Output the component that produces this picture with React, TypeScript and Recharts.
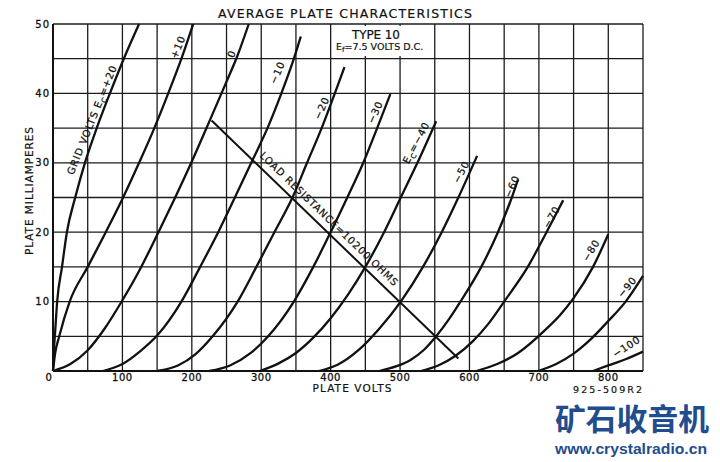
import React from "react"
import {
  LineChart,
  Line,
  XAxis,
  YAxis,
  CartesianGrid,
  ReferenceArea,
  ReferenceDot,
} from "recharts"

// [plate volts, plate mA], one list per grid bias
const EC_P20 = [[0, 0], [1, 2.5], [3, 5.5], [6, 10], [13, 15], [20, 20], [32, 25], [46, 30], [63, 35], [82, 40], [102, 45], [124, 50]]
const EC_P10 = [[0, 0], [3, 2.5], [9, 5], [24, 10], [50, 15], [76, 20], [101, 25], [124, 30], [146, 35], [166, 40], [185, 45], [202, 50]]
const EC_0 = [[0, 0], [25, 1], [50, 3], [75, 6.2], [100, 10.2], [125, 14.6], [150, 19.6], [175, 24.8], [200, 30.2], [225, 35.9], [250, 41.7], [266, 45.5], [282, 50]]
const EC_M10 = [[72, 0], [100, 1], [125, 2.8], [150, 5.1], [185, 10], [212, 15], [238, 20], [262, 25], [288, 30.5], [309, 35], [329, 40], [347, 45], [357, 48.2]]
const EC_M20 = [[150, 0], [180, 0.8], [205, 2.4], [230, 5], [266, 10], [293, 15], [319, 20], [345, 25], [366, 30], [387, 35], [406, 40], [420, 43.8]]
const EC_M30 = [[225, 0], [255, 0.8], [285, 2.6], [310, 5], [347, 10], [375, 15], [400, 20], [424, 25], [447, 30], [467, 35], [486, 39.9]]
const EC_M40 = [[298, 0], [325, 1.1], [350, 2.6], [375, 4.8], [400, 7.6], [425, 11], [450, 15], [477, 20], [501, 25], [525, 30], [552, 36]]
const EC_M50 = [[383, 0], [410, 0.9], [440, 3], [470, 6.1], [501, 10], [533, 15], [560, 20], [584, 25], [611, 31]]
const EC_M60 = [[470, 0], [495, 0.7], [515, 1.6], [535, 3.1], [552, 5], [570, 7.4], [587, 10], [617, 15], [641, 20], [661, 25], [670, 27.6]]
const EC_M70 = [[530, 0], [555, 0.8], [580, 2.2], [605, 4.3], [628, 6.9], [650, 10], [684, 15], [711, 20], [735, 24.6]]
const EC_M80 = [[610, 0], [640, 1], [670, 2.6], [710, 6], [730, 8], [750, 10.5], [778, 15], [800, 19.7]]
const EC_M90 = [[699, 0], [725, 1], [750, 2.5], [776, 4.7], [800, 7.2], [825, 10], [850, 13.7]]
const EC_M100 = [[778, 0], [800, 0.8], [825, 1.7], [850, 2.8]]

const CURVES = [
  { ec: "+20", pts: EC_P20 },
  { ec: "+10", pts: EC_P10 },
  { ec: "0", pts: EC_0 },
  { ec: "-10", pts: EC_M10 },
  { ec: "-20", pts: EC_M20 },
  { ec: "-30", pts: EC_M30 },
  { ec: "-40", pts: EC_M40 },
  { ec: "-50", pts: EC_M50 },
  { ec: "-60", pts: EC_M60 },
  { ec: "-70", pts: EC_M70 },
  { ec: "-80", pts: EC_M80 },
  { ec: "-90", pts: EC_M90 },
  { ec: "-100", pts: EC_M100 },
]

// 10200 ohm load line
const LOAD_LINE = [[228.5, 36.1], [584, 1.8]]

const VOLT_TICKS = [0, 50, 100, 150, 200, 250, 300, 350, 400, 450, 500, 550, 600, 650, 700, 750, 800, 850]
const VOLT_LABELS = [0, 100, 200, 300, 400, 500, 600, 700, 800]
const MA_TICKS = [0, 5, 10, 15, 20, 25, 30, 35, 40, 45, 50]
const MA_LABELS = [10, 20, 30, 40, 50]

// text written along the curves: [before subscript, subscript, after]
const CURVE_LABELS = [
  { parts: ["GRID VOLTS E", "C", "=+20"], v: 56, i: 36.2, angle: -68 },
  { parts: ["+10"], v: 180, i: 46.7, angle: -68 },
  { parts: ["0"], v: 257, i: 45.7, angle: -68 },
  { parts: ["−10"], v: 323, i: 43, angle: -66 },
  { parts: ["−20"], v: 387, i: 37.9, angle: -66 },
  { parts: ["−30"], v: 464, i: 37.3, angle: -66 },
  { parts: ["E", "C", "=−40"], v: 523, i: 32.9, angle: -62 },
  { parts: ["−50"], v: 588, i: 28.7, angle: -62 },
  { parts: ["−60"], v: 661, i: 26.6, angle: -66 },
  { parts: ["−70"], v: 718, i: 22.2, angle: -60 },
  { parts: ["−80"], v: 775, i: 17.4, angle: -58 },
  { parts: ["−90"], v: 827, i: 12.1, angle: -50 },
  { parts: ["−100"], v: 826, i: 3.5, angle: -33 },
  { parts: ["LOAD RESISTANCE=10200 OHMS"], v: 398, i: 21.9, angle: 44 },
]

const INK = "#111"
const FONT = "'DejaVu Sans', sans-serif"

const toRows = (pts: number[][]) => pts.map(([v, i]) => ({ v, i }))

function VoltTick({ x, y, payload }: any) {
  if (!VOLT_LABELS.includes(payload.value)) return <g />
  return (
    <text
      x={payload.value === 0 ? x - 4 : x}
      y={y}
      dy="0.71em"
      textAnchor="middle"
      fontFamily={FONT}
      fontSize={10}
      fill={INK}
      stroke={INK}
      strokeWidth={0.3}
      letterSpacing={0.5}
    >
      {payload.value}
    </text>
  )
}

function MaTick({ x, y, payload }: any) {
  if (!MA_LABELS.includes(payload.value)) return <g />
  return (
    <text
      x={x}
      y={y}
      dy="0.36em"
      textAnchor="end"
      fontFamily={FONT}
      fontSize={10}
      fill={INK}
      stroke={INK}
      strokeWidth={0.3}
      letterSpacing={1}
    >
      {payload.value}
    </text>
  )
}

function CurveLabel({ cx, cy, parts, angle }: any) {
  const isLoad = parts[0].startsWith("LOAD")
  return (
    <text
      x={cx}
      y={cy}
      dy="0.36em"
      textAnchor="middle"
      transform={`rotate(${angle}, ${cx}, ${cy})`}
      fontFamily={FONT}
      fontSize={10}
      fill={INK}
      stroke={INK}
      strokeWidth={0.25}
      letterSpacing={0.8}
      textLength={isLoad ? 188 : undefined}
      lengthAdjust={isLoad ? "spacing" : undefined}
    >
      {parts[0]}
      {parts.length > 1 && (
        <>
          <tspan dy={3} fontSize={7}>{parts[1]}</tspan>
          <tspan dy={-3}>{parts[2]}</tspan>
        </>
      )}
    </text>
  )
}

export default function App() {
  return (
    <div
      style={{
        position: "absolute",
        left: 0,
        top: 0,
        width: 720,
        height: 462,
        background: "white",
        fontFamily: FONT,
      }}
    >
      <LineChart width={720} height={462} margin={{ top: 24, right: 77, bottom: 0, left: 0 }}>
        <CartesianGrid stroke="#1c1c1c" strokeWidth={1.3} />
        <XAxis
          type="number"
          dataKey="v"
          domain={[0, 850]}
          ticks={VOLT_TICKS}
          interval={0}
          height={91}
          tickSize={0}
          tickMargin={3}
          tick={<VoltTick />}
          axisLine={{ stroke: INK, strokeWidth: 2 }}
        />
        <YAxis
          type="number"
          domain={[0, 50]}
          ticks={MA_TICKS}
          interval={0}
          width={53}
          tickSize={0}
          tickMargin={3}
          tick={<MaTick />}
          axisLine={{ stroke: INK, strokeWidth: 2 }}
        />
        {/* blank patch behind the type note */}
        <ReferenceArea x1={402} x2={548} y1={45.4} y2={49.7} fill="white" fillOpacity={1} stroke="none" />
        {CURVES.map((c) => (
          <Line
            key={c.ec}
            data={toRows(c.pts)}
            dataKey="i"
            type="monotone"
            stroke={INK}
            strokeWidth={2.3}
            dot={false}
            activeDot={false}
            isAnimationActive={false}
          />
        ))}
        <Line
          data={toRows(LOAD_LINE)}
          dataKey="i"
          type="linear"
          stroke={INK}
          strokeWidth={2}
          dot={false}
          activeDot={false}
          isAnimationActive={false}
        />
        {CURVE_LABELS.map((l) => (
          <ReferenceDot
            key={l.parts.join("")}
            x={l.v}
            y={l.i}
            r={0}
            ifOverflow="visible"
            shape={(p: any) => <CurveLabel cx={p.cx} cy={p.cy} parts={l.parts} angle={l.angle} />}
          />
        ))}
      </LineChart>

      <svg
        width={720}
        height={462}
        style={{ position: "absolute", left: 0, top: 0, pointerEvents: "none" }}
      >
        <g fontFamily={FONT} fill={INK} stroke={INK} strokeWidth={0.2}>
          <text x={345} y={13} dy="0.36em" textAnchor="middle" fontSize={12.5} textLength={254} lengthAdjust="spacing">
            AVERAGE PLATE CHARACTERISTICS
          </text>
          <text x={376} y={34.5} dy="0.36em" textAnchor="middle" fontSize={12} textLength={48} lengthAdjust="spacing">
            TYPE 10
          </text>
          <text x={336} y={46.5} dy="0.36em" fontSize={9.5}>
            E<tspan dy={2.5} fontSize={7}>f</tspan>
            <tspan dy={-2.5}>=7.5 VOLTS D.C.</tspan>
          </text>
          <text x={352} y={388} dy="0.36em" textAnchor="middle" fontSize={10.5} textLength={79} lengthAdjust="spacing">
            PLATE VOLTS
          </text>
          <text
            x={29}
            y={191}
            dy="0.36em"
            textAnchor="middle"
            fontSize={10.5}
            transform="rotate(-90, 29, 191)"
            textLength={128}
            lengthAdjust="spacing"
          >
            PLATE MILLIAMPERES
          </text>
          <text x={642} y={390} dy="0.36em" textAnchor="end" fontSize={9.5} textLength={69} lengthAdjust="spacing">
            925-509R2
          </text>
        </g>
        <g fill="#1f4d8d" fontWeight="bold">
          <text
            x={632}
            y={419}
            dy="0.36em"
            textAnchor="middle"
            fontFamily="'Noto Sans CJK SC', sans-serif"
            fontSize={30}
            textLength={154}
            lengthAdjust="spacingAndGlyphs"
          >
            矿石收音机
          </text>
          <text
            x={631}
            y={449}
            dy="0.36em"
            textAnchor="middle"
            fontFamily="'Liberation Sans', Arial, sans-serif"
            fontSize={14}
            textLength={152}
            lengthAdjust="spacingAndGlyphs"
          >
            www.crystalradio.cn
          </text>
        </g>
      </svg>
    </div>
  )
}
